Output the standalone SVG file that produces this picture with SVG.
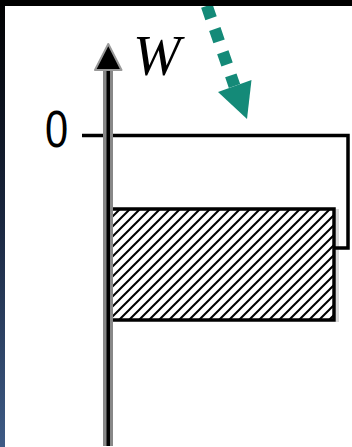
<svg xmlns="http://www.w3.org/2000/svg" width="352" height="447" viewBox="0 0 352 447">
  <defs>
    <linearGradient id="strip" x1="0" y1="0" x2="0" y2="1">
      <stop offset="0" stop-color="#000000"/>
      <stop offset="0.5" stop-color="#1a2740"/>
      <stop offset="1" stop-color="#3e5b86"/>
    </linearGradient>
    <pattern id="hatch" patternUnits="userSpaceOnUse" x="110" y="209" width="10" height="10">
      <path d="M-1,11 L11,-1 M-6,6 L6,-6 M4,16 L16,4" stroke="#000" stroke-width="2"/>
    </pattern>
    <style>
      .ln { stroke: #000; stroke-width: 3.5; fill: none; }
      .lbl { font-family: "Liberation Serif", "DejaVu Serif", serif; fill: #000; }
    </style>
  </defs>

  <!-- page background -->
  <rect x="0" y="0" width="352" height="447" fill="#ffffff"/>
  <rect x="0" y="0" width="5" height="447" fill="url(#strip)"/>

  <!-- hatched block -->
  <g id="block">
    <rect x="336" y="209" width="3" height="113" fill="#d8d8d8"/>
    <rect x="110" y="209" width="224" height="111" fill="#fff"/>
    <rect x="110" y="209" width="224" height="111" fill="url(#hatch)"/>
    <rect x="110" y="209" width="224" height="111" class="ln" stroke-width="3"/>
  </g>

  <!-- connectors -->
  <g id="connectors">
    <polyline points="82,135.5 348,135.5 348,248 335,248" class="ln"/>
    <!-- vertical axis -->
    <rect x="103" y="68" width="10" height="378" fill="#888"/>
    <rect x="106.5" y="68" width="3.5" height="378" fill="#000"/>
    <polygon points="108.3,44 95,70 121.5,70" fill="#000" stroke="#999" stroke-width="2" stroke-linejoin="round"/>
    <!-- teal dotted arrow -->
    <line x1="206.8" y1="5.9" x2="234.5" y2="86" stroke="#148a78" stroke-width="12" stroke-dasharray="13 11.5"/>
    <polygon points="218,92 251.5,80 247,119" fill="#148a78"/>
  </g>

  <!-- labels -->
  <g id="label-W">
    <text x="133" y="75" class="lbl" font-size="57" font-style="italic">W</text>
  </g>
  <g id="label-0">
    <text x="45" y="147" font-family="Liberation Sans, Arial, sans-serif" font-size="52" transform="translate(45 0) scale(0.8 1) translate(-45 0)">0</text>
  </g>

  <!-- top dark band -->
  <rect x="0" y="0" width="352" height="6" fill="#000"/>
</svg>
